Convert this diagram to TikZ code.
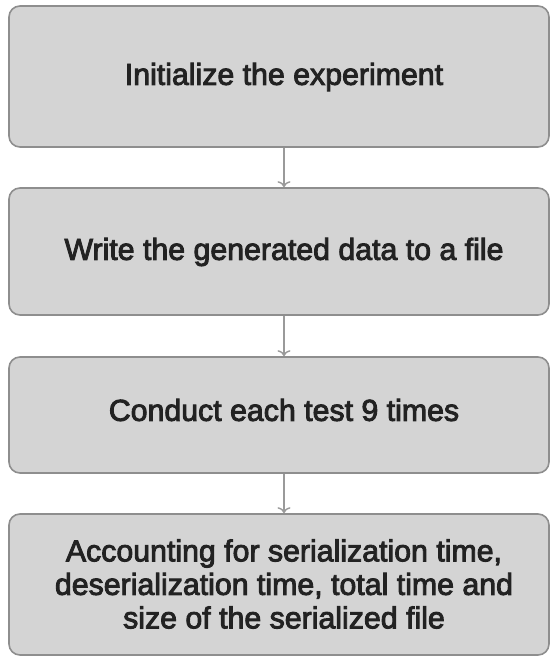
\documentclass[tikz,border=0pt]{standalone}
\usepackage{fontspec}
\setmainfont{Liberation Sans}[FakeBold=3]
\usetikzlibrary{arrows.meta}
\definecolor{boxfill}{HTML}{D4D4D4}
\definecolor{boxdraw}{HTML}{8E8E8E}
\definecolor{txt}{HTML}{222222}
\definecolor{arrc}{HTML}{9A9A9A}
\tikzset{
  stepbox/.style={draw=boxdraw, fill=boxfill, line width=1.6pt, rounded corners=11pt,
    minimum width=540pt, inner sep=0pt},
  lbl/.style={text=txt, font=\fontsize{30.3}{33.5}\selectfont, align=center},
  arr/.style={draw=arrc, line width=1.4pt, -{To[length=6pt,width=13pt]}}
}
\begin{document}
\begin{tikzpicture}[x=1pt,y=-1pt]
\useasboundingbox (0,0) rectangle (550,657);
\node[stepbox, minimum height=141pt] (b1) at (279,76.5) {};
\node[stepbox, minimum height=127pt] (b2) at (279,251.5) {};
\node[stepbox, minimum height=116pt] (b3) at (279,415) {};
\node[stepbox, minimum height=141pt] (b4) at (279,584.5) {};
\node[lbl] (t1) at (284,77) {Initialize the experiment};
\node[lbl] (t2) at (284,252) {Write the generated data to a file};
\node[lbl] (t3) at (284,410) {Conduct each test 9 times};
\node[lbl] (t4) at (284,584) {Accounting for serialization time,\\deserialization time, total time and\\size of the serialized file};
\coordinate (ax) at (284,0);
\draw[arr] (b1.south -| ax) -- (b2.north -| ax);
\draw[arr] (b2.south -| ax) -- (b3.north -| ax);
\draw[arr] (b3.south -| ax) -- (b4.north -| ax);
\end{tikzpicture}
\end{document}
